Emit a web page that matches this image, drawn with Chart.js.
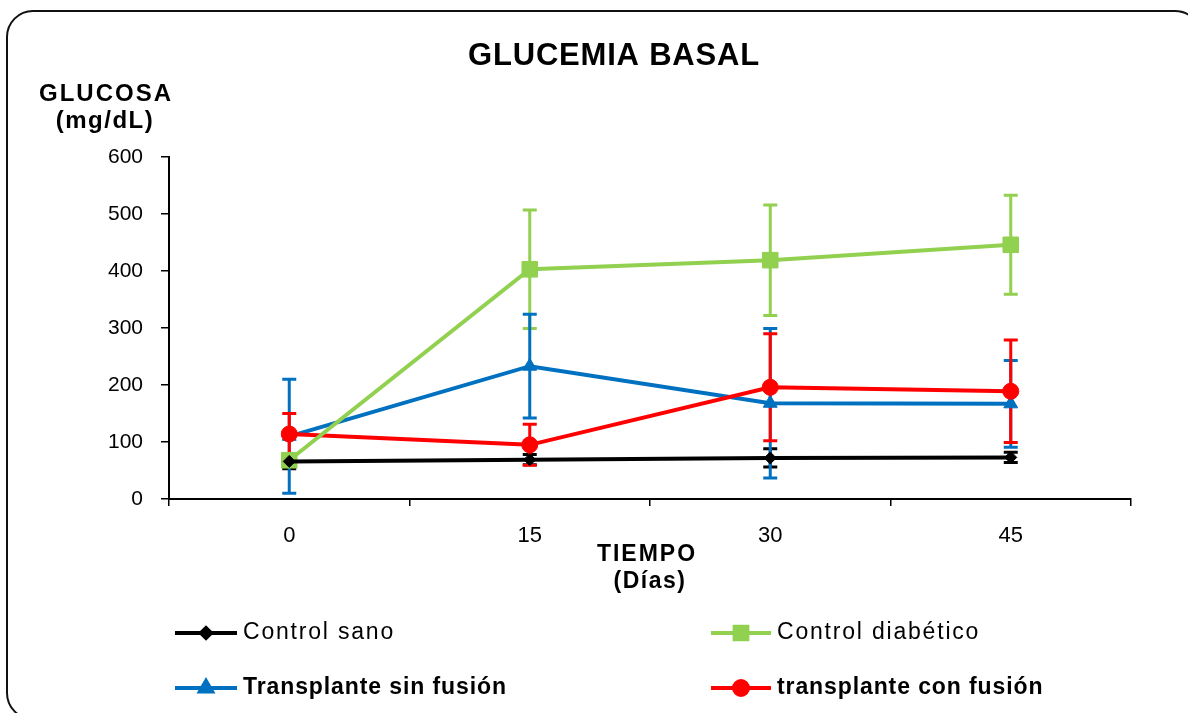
<!DOCTYPE html>
<html>
<head>
<meta charset="utf-8">
<script src="https://cdn.jsdelivr.net/npm/chart.js@4/dist/chart.umd.min.js"></script>
<style>
  html, body { margin: 0; padding: 0; background: #fff; }
  #wrap { position: relative; width: 1188px; height: 713px; }
</style>
</head>
<body>
<div id="wrap"><canvas id="chart"></canvas></div>
<script>
// Glucemia basal (mg/dL) por dia
const dias = ['0', '15', '30', '45'];

const controlSano = [66, 69, 72, 73];
const errControlSano = [13, 9, 16, 9];

const controlDiabetico = [68, 403, 419, 446];
const errControlDiabetico = [0, 104, 97, 87];

const sinFusion = [110, 233, 168, 167];
const errSinFusion = [100, 91, 131, 76];

const conFusion = [114, 95, 196, 189];
const errConFusion = [36, 36, 94, 90];

const yTicks = [0, 100, 200, 300, 400, 500, 600];

const FONT = '"Liberation Sans", Arial, sans-serif';

const series = [
    { label: 'Control sano', data: controlSano, err: errControlSano, color: '#000000', style: 'rectRot', radius: 6, legendRadius: 5, order: 0 },
    { label: 'Control diabético', data: controlDiabetico, err: errControlDiabetico, color: '#92D050', style: 'rect', radius: 11, legendRadius: 9, order: 1 },
    { label: 'Transplante sin fusión', data: sinFusion, err: errSinFusion, color: '#0070C0', style: 'triangle', radius: 8, legendRadius: 7, order: 3 },
    { label: 'transplante con fusión', data: conFusion, err: errConFusion, color: '#FF0000', style: 'circle', radius: 8, legendRadius: 7, order: 2 }
];

// error bars drawn under the lines, from the chart scales
const errorBars = {
    id: 'errorBars',
    beforeDatasetsDraw(chart) {
        const ctx = chart.ctx;
        const y = chart.scales.y;
        ctx.save();
        chart.data.datasets.forEach((ds, i) => {
            const meta = chart.getDatasetMeta(i);
            ctx.strokeStyle = ds.borderColor;
            ctx.lineWidth = 3;
            meta.data.forEach((pt, j) => {
                const e = ds.errors[j];
                if (!e) return;
                const top = y.getPixelForValue(ds.data[j] + e);
                const bot = y.getPixelForValue(ds.data[j] - e);
                ctx.beginPath();
                ctx.moveTo(pt.x, top);
                ctx.lineTo(pt.x, bot);
                ctx.moveTo(pt.x - 7, top);
                ctx.lineTo(pt.x + 7, top);
                ctx.moveTo(pt.x - 7, bot);
                ctx.lineTo(pt.x + 7, bot);
                ctx.stroke();
            });
        });
        ctx.restore();
    }
};

function spacedText(ctx, text, x, y, font, spacing, align) {
    ctx.font = font;
    ctx.letterSpacing = spacing + 'px';
    ctx.textAlign = align || 'center';
    ctx.textBaseline = 'middle';
    ctx.fillText(text, x, y);
    ctx.letterSpacing = '0px';
}

// frame, titles and 2x2 legend
const decorations = {
    id: 'decorations',
    beforeDraw(chart) {
        const ctx = chart.ctx;
        ctx.save();
        ctx.fillStyle = '#fff';
        ctx.fillRect(0, 0, chart.width, chart.height);
        ctx.restore();
    },
    afterDraw(chart) {
        const ctx = chart.ctx;
        ctx.save();
        ctx.strokeStyle = '#111';
        ctx.lineWidth = 2;
        ctx.beginPath();
        ctx.roundRect(7, 11, 1194, 708, 26);
        ctx.stroke();

        ctx.fillStyle = '#000';
        spacedText(ctx, 'GLUCEMIA BASAL', 614, 56, 'bold 31px ' + FONT, 0.8);
        spacedText(ctx, 'GLUCOSA', 106, 94, 'bold 24px ' + FONT, 2);
        spacedText(ctx, '(mg/dL)', 105, 121, 'bold 24px ' + FONT, 1.5);
        spacedText(ctx, 'TIEMPO', 647, 555, 'bold 23px ' + FONT, 2);
        spacedText(ctx, '(Días)', 650, 582, 'bold 23px ' + FONT, 1.5);

        const slots = [
            { x0: 175, x1: 237, tx: 243, y: 633, font: '23px ' + FONT, sp: 1.8 },
            { x0: 711, x1: 771, tx: 777, y: 633, font: '23px ' + FONT, sp: 1.8 },
            { x0: 175, x1: 237, tx: 243, y: 688, font: 'bold 23px ' + FONT, sp: 0.9 },
            { x0: 711, x1: 771, tx: 777, y: 688, font: 'bold 23px ' + FONT, sp: 0.9 }
        ];
        series.forEach((s, i) => {
            const p = slots[i];
            ctx.strokeStyle = s.color;
            ctx.lineWidth = 4;
            ctx.beginPath();
            ctx.moveTo(p.x0, p.y);
            ctx.lineTo(p.x1, p.y);
            ctx.stroke();
            ctx.fillStyle = s.color;
            Chart.helpers.drawPoint(ctx, {
                pointStyle: s.style,
                radius: s.legendRadius,
                rotation: 0,
                borderWidth: 1
            }, (p.x0 + p.x1) / 2, p.y);
            ctx.fill();
            ctx.fillStyle = '#000';
            spacedText(ctx, s.label, p.tx, p.y, p.font, p.sp, 'left');
        });
        ctx.restore();
    }
};

new Chart(document.getElementById('chart'), {
    type: 'line',
    data: {
        labels: dias,
        datasets: series.map(s => ({
            label: s.label,
            data: s.data,
            errors: s.err,
            order: s.order,
            borderColor: s.color,
            backgroundColor: s.color,
            borderWidth: 4,
            pointStyle: s.style,
            pointRadius: s.radius,
            pointBorderWidth: 1,
            pointBackgroundColor: s.color,
            pointBorderColor: s.color,
            tension: 0,
            fill: false
        }))
    },
    options: {
        responsive: true,
        maintainAspectRatio: false,
        animation: false,
        layout: {
            padding: { top: 157, right: 57, bottom: 0, left: 0 }
        },
        scales: {
            x: {
                offset: true,
                grid: {
                    offset: true,
                    drawOnChartArea: false,
                    color: '#000',
                    lineWidth: 1.5,
                    tickLength: 7
                },
                border: { color: '#000', width: 2 },
                ticks: {
                    color: '#000',
                    padding: 17,
                    font: { family: FONT, size: 22 }
                },
                afterFit(scale) { scale.height = 214; }
            },
            y: {
                min: 0,
                max: 600,
                afterBuildTicks(scale) { scale.ticks = yTicks.map(v => ({ value: v })); },
                grid: {
                    drawOnChartArea: false,
                    color: '#000',
                    lineWidth: 1.5,
                    tickLength: 8
                },
                border: { color: '#000', width: 2 },
                ticks: {
                    color: '#000',
                    padding: 18,
                    font: { family: FONT, size: 21 }
                },
                afterFit(scale) { scale.width = 169; }
            }
        },
        plugins: {
            legend: { display: false },
            title: { display: false },
            tooltip: { enabled: false }
        }
    },
    plugins: [errorBars, decorations]
});
</script>
</body>
</html>
